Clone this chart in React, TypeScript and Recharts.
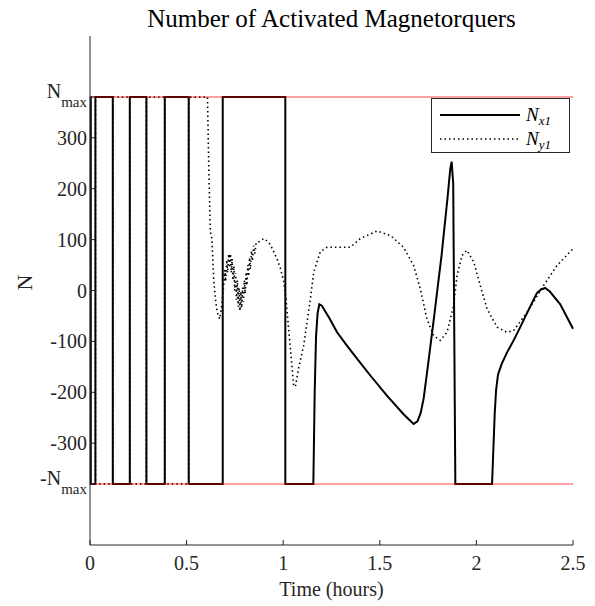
import { LineChart, Line, XAxis, YAxis, ReferenceLine } from 'recharts';

const N_MAX = 380;

// Nx1: [time (hours), N]
const nx1Time = [
  0, 0.004, 0.004, 0.028, 0.028, 0.118, 0.118, 0.206, 0.206, 0.292, 0.292, 0.387, 0.387, 0.511, 0.511, 0.687,
  0.687, 1.011, 1.011, 1.156, 1.163, 1.17, 1.178, 1.187, 1.2, 1.24, 1.279, 1.327, 1.382, 1.451, 1.538, 1.623,
  1.675, 1.695, 1.712, 1.727, 1.745, 1.78, 1.82, 1.85, 1.865, 1.872, 1.88, 1.891, 2.081, 2.089, 2.095, 2.102,
  2.112, 2.13, 2.158, 2.19, 2.227, 2.27, 2.313, 2.335, 2.356, 2.38, 2.434, 2.5,
];
const nx1Value = [
  380, 380, -380, -380, 380, 380, -380, -380, 380, 380, -380, -380, 380, 380, -380, -380,
  380, 380, -380, -380, -200, -90, -45, -27, -30, -55, -82, -107, -134, -167, -207, -243,
  -262, -257, -240, -212, -160, -55, 70, 180, 240, 253, 210, -380, -380, -300, -240, -195,
  -165, -145, -122, -100, -72, -38, -5, 2, 5, -2, -27, -75,
];

// Ny1: [time (hours), N]
const ny1Time = [
  0, 0.028, 0.028, 0.118, 0.118, 0.206, 0.206, 0.292, 0.292, 0.387, 0.387, 0.511, 0.511, 0.608, 0.616, 0.623,
  0.631, 0.64, 0.649, 0.658, 0.671, 0.68, 0.692, 0.698, 0.702, 0.708, 0.712, 0.718, 0.722, 0.727, 0.731, 0.736,
  0.74, 0.745, 0.749, 0.754, 0.758, 0.763, 0.767, 0.772, 0.776, 0.781, 0.785, 0.79, 0.794, 0.799, 0.803, 0.808,
  0.812, 0.817, 0.821, 0.826, 0.83, 0.836, 0.841, 0.847, 0.853, 0.86, 0.872, 0.899, 0.925, 0.944, 0.968, 0.986,
  1.003, 1.014, 1.028, 1.042, 1.054, 1.063, 1.079, 1.106, 1.141, 1.158, 1.192, 1.227, 1.296, 1.347, 1.399, 1.486,
  1.555, 1.623, 1.675, 1.71, 1.744, 1.779, 1.813, 1.848, 1.882, 1.9, 1.926, 1.951, 1.986, 2.02, 2.055, 2.107,
  2.158, 2.192, 2.262, 2.348, 2.417, 2.5,
];
const ny1Value = [
  380, 380, -380, -380, 380, 380, -380, -380, 380, 380, -380, -380, 380, 380, 220, 115,
  102, 23, -16, -42, -56, -36, 10, 40, 18, 60, 35, 72, 45, 72, 35, 62,
  20, 48, 0, 34, -18, 20, -32, 5, -40, -2, -34, 6, -22, 20, -6, 36,
  10, 50, 28, 65, 42, 78, 58, 88, 72, 94, 95, 102, 95, 82, 62, 43,
  17, -16, -75, -134, -187, -189, -154, -108, -16, 36, 76, 85, 85, 85, 102, 117,
  108, 85, 49, 3, -56, -89, -98, -82, -30, 30, 69, 79, 56, 10, -36, -72,
  -82, -79, -43, 10, 49, 82,
];

const xTicks = [0, 0.5, 1, 1.5, 2, 2.5];
const yTicks = [-N_MAX, -300, -200, -100, 0, 100, 200, 300, N_MAX];

const nx1Data = nx1Time.map((t, i) => ({ t, n: nx1Value[i] }));
const ny1Data = ny1Time.map((t, i) => ({ t, n: ny1Value[i] }));

const FONT = '"Liberation Serif", "DejaVu Serif", serif';
const AXIS = '#262626';

const XTick = (props: any) => {
  const { x, y, payload } = props;
  return (
    <g>
      <line x1={x} x2={x} y1={y} y2={y - 5} stroke={AXIS} />
      <text x={x} y={y + 25} textAnchor="middle" fontFamily={FONT} fontSize={20} fill={AXIS}>
        {String(payload.value)}
      </text>
    </g>
  );
};

const YTick = (props: any) => {
  const { x, y, payload } = props;
  const v = payload.value;
  const isMax = Math.abs(v) === N_MAX;
  return (
    <g>
      <line x1={x} x2={x + 5} y1={y} y2={y} stroke={AXIS} />
      {isMax ? (
        <text x={x - 3} y={y + 1} textAnchor="end" fontFamily={FONT} fontSize={20} fill={AXIS}>
          <tspan>{v < 0 ? '-N' : 'N'}</tspan>
          <tspan fontSize={15} dy={9}>max</tspan>
        </text>
      ) : (
        <text x={x - 3} y={y + 7} textAnchor="end" fontFamily={FONT} fontSize={20} fill={AXIS}>
          {String(v)}
        </text>
      )}
    </g>
  );
};

const LegendBox = () => (
  <div
    style={{
      position: 'absolute',
      left: 431,
      top: 98,
      width: 139,
      height: 55,
      border: '1px solid #262626',
      background: '#fff',
      boxSizing: 'border-box',
    }}
  >
    <svg width={137} height={53} style={{ display: 'block' }}>
      <line x1={8} x2={88} y1={16} y2={16} stroke="#000" strokeWidth={2} />
      <text x={94} y={22} fontFamily={FONT} fontStyle="italic" fontSize={19} fill="#000">
        N<tspan fontSize={13} dy={4}>x1</tspan>
      </text>
      <line x1={8} x2={88} y1={40} y2={40} stroke="#000" strokeWidth={1.5} strokeDasharray="1.5 3" />
      <text x={94} y={46} fontFamily={FONT} fontStyle="italic" fontSize={19} fill="#000">
        N<tspan fontSize={13} dy={4}>y1</tspan>
      </text>
    </svg>
  </div>
);

export default function App() {
  return (
    <div style={{ position: 'absolute', left: 0, top: 0, width: 595, height: 606, background: '#fff', fontFamily: FONT }}>
      <LineChart width={595} height={606} margin={{ top: 36, right: 22, left: 0, bottom: 0 }}>
        <XAxis
          type="number"
          dataKey="t"
          domain={[0, 2.5]}
          ticks={xTicks}
          allowDuplicatedCategory={false}
          height={61}
          tickSize={0}
          tickMargin={0}
          tick={<XTick />}
          stroke={AXIS}
          label={{ value: 'Time (hours)', position: 'insideBottom', offset: 10, fontSize: 20, fontFamily: FONT, fill: AXIS }}
        />
        <YAxis
          type="number"
          domain={[-500, 500]}
          ticks={yTicks}
          width={90}
          tickSize={0}
          tickMargin={0}
          tick={<YTick />}
          stroke={AXIS}
          label={{ value: 'N', angle: -90, position: 'insideLeft', offset: 24, fontSize: 22, fontFamily: FONT, fill: AXIS }}
        />
        <Line data={nx1Data} dataKey="n" name="Nx1" type="linear" stroke="#000" strokeWidth={2} dot={false} isAnimationActive={false} />
        <Line
          data={ny1Data}
          dataKey="n"
          name="Ny1"
          type="linear"
          stroke="#000"
          strokeWidth={1.6}
          strokeDasharray="1.5 3"
          dot={false}
          isAnimationActive={false}
        />
        <ReferenceLine y={N_MAX} stroke="#ff0000" strokeOpacity={0.5} strokeWidth={1.5} />
        <ReferenceLine y={-N_MAX} stroke="#ff0000" strokeOpacity={0.5} strokeWidth={1.5} />
      </LineChart>
      <div
        style={{
          position: 'absolute',
          left: 90,
          width: 483,
          top: 4,
          textAlign: 'center',
          fontSize: 25,
          lineHeight: '30px',
          color: '#000',
        }}
      >
        Number of Activated Magnetorquers
      </div>
      <LegendBox />
    </div>
  );
}
